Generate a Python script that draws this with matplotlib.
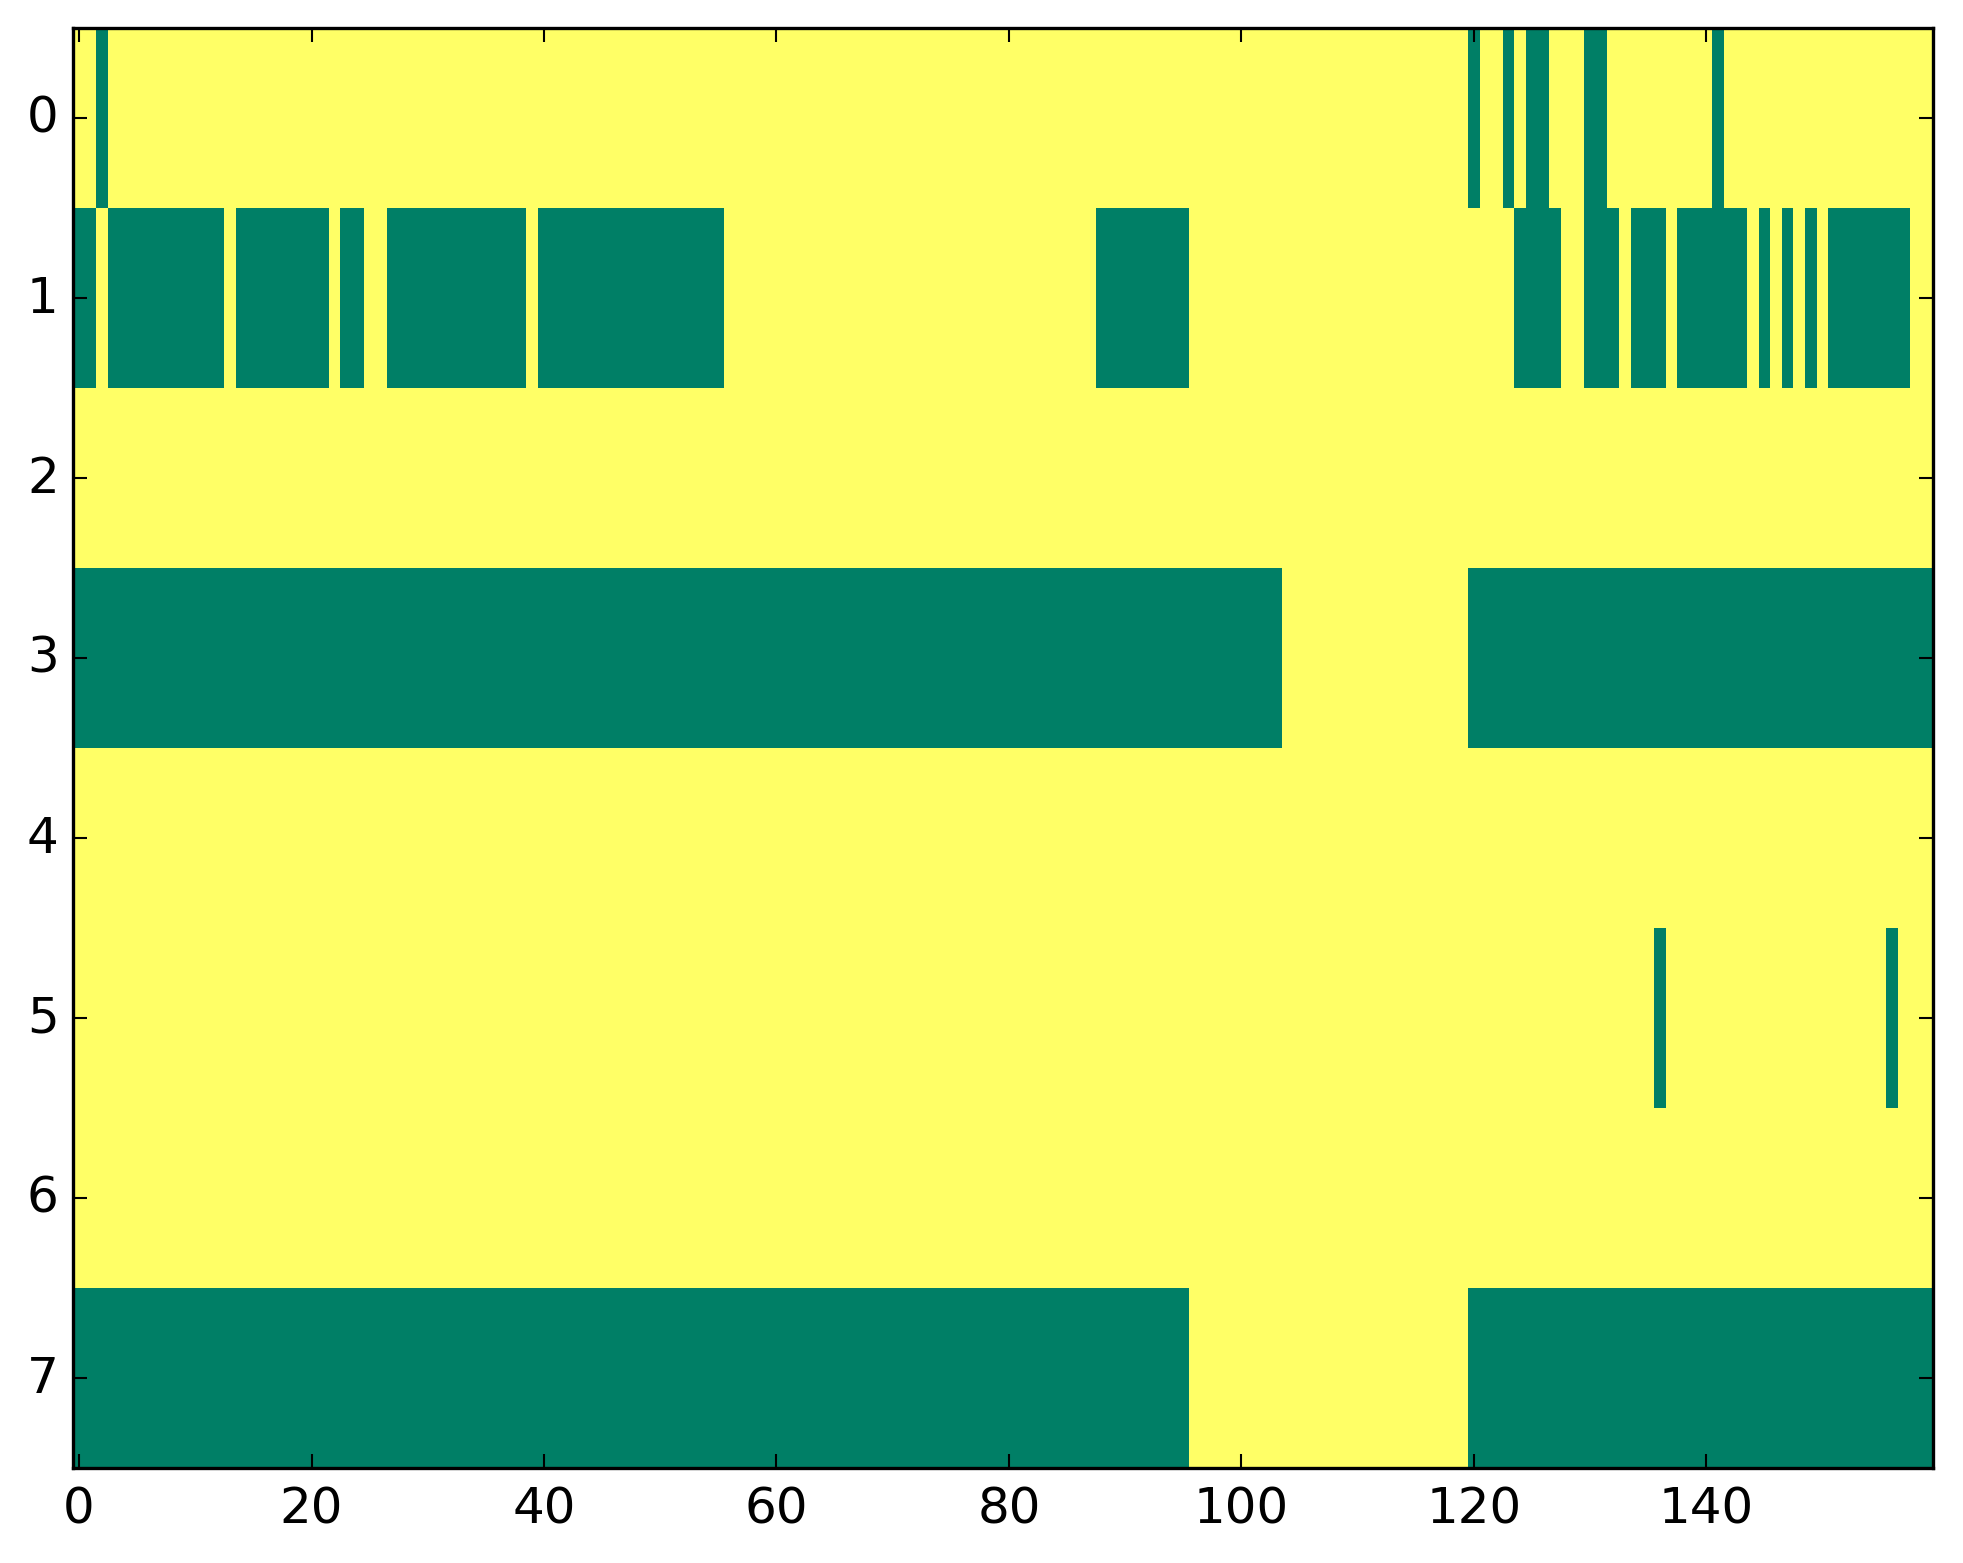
import numpy as np
import matplotlib
matplotlib.use("Agg")
import matplotlib.pyplot as plt

n_rows = 8
n_cols = 160

# green (value 0) runs per row, inclusive column ranges
row0_runs = [(2, 2), (120, 120), (123, 123), (125, 126), (130, 131), (141, 141)]
row1_runs = [(0, 1), (3, 12), (14, 21), (23, 24), (27, 38), (40, 55), (88, 95),
             (124, 127), (130, 132), (134, 136), (138, 143), (145, 145),
             (147, 147), (149, 149), (151, 157)]
row2_runs = []
row3_runs = [(0, 103), (120, 159)]
row4_runs = []
row5_runs = [(136, 136), (156, 156)]
row6_runs = []
row7_runs = [(0, 95), (120, 159)]

all_runs = [row0_runs, row1_runs, row2_runs, row3_runs,
            row4_runs, row5_runs, row6_runs, row7_runs]

data = np.ones((n_rows, n_cols))
for r, runs in enumerate(all_runs):
    for a, b in runs:
        data[r, a:b + 1] = 0

plt.style.use("classic")
fig = plt.figure(figsize=(1963 / 300, 1564 / 300), dpi=300, facecolor="white")
left, right, top, bottom = 73.3, 1933, 28.7, 1468.7
ax = fig.add_axes([left / 1963, 1 - bottom / 1564, (right - left) / 1963, (bottom - top) / 1564])
ax.imshow(data, cmap="summer", aspect="auto", interpolation="nearest", vmin=0, vmax=1)
ax.set_xticks([0, 20, 40, 60, 80, 100, 120, 140])
ax.set_yticks(range(8))
for sp in ax.spines.values():
    sp.set_linewidth(0.8)
ax.tick_params(labelsize=12, length=3.4, width=0.5)
ax.tick_params(axis="y", pad=3.5)
fig.savefig("out.png", dpi=300, facecolor="white")
